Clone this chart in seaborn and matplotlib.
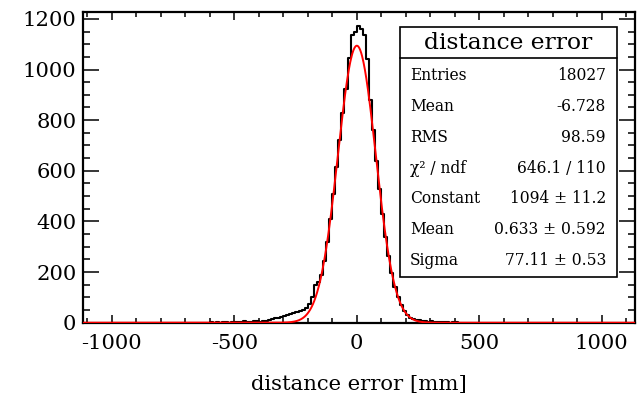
import numpy as np
import pandas as pd
import matplotlib
matplotlib.use("Agg")
import matplotlib.pyplot as plt
from matplotlib.patches import Rectangle
from matplotlib.lines import Line2D
from matplotlib.ticker import MultipleLocator
import seaborn as sns

# ---------------- data ----------------
hist_start = -600.0      # left edge of first filled bin [mm]
bin_width = 12.5         # bin width [mm]
counts = [
    2, 0, 3, 0, 2, 3, 0, 2, 3, 4, 2, 5, 4, 3, 5, 6, 4, 7, 8, 12,
    15, 18, 20, 22, 27, 30, 33, 38, 42, 48, 52, 60, 72, 100, 148, 160,
    190, 245, 320, 410, 510, 615, 720, 830, 925, 1045, 1138, 1150,
    1172, 1160, 1135, 1040, 880, 760, 640, 530, 430, 340, 262, 195,
    142, 100, 68, 46, 30, 20, 13, 10, 12, 8, 6, 4, 5, 3, 2, 3, 1, 2, 0, 2, 1,
]
fit_constant = 1094.0
fit_mean = 0.633
fit_sigma = 77.11

stats_title = "distance error"
stats_labels = ["Entries", "Mean", "RMS", "\u03c7\u00b2 / ndf", "Constant", "Mean", "Sigma"]
stats_values = ["18027", "-6.728", "98.59", "646.1 / 110",
                "1094 \u00b1 11.2", "0.633 \u00b1 0.592", "77.11 \u00b1 0.53"]
x_label = "distance error [mm]"

# ---------------- style ----------------
sns.set_theme(style="white")
plt.rcParams["font.family"] = ["DejaVu Serif"]
plt.rcParams["mathtext.fontset"] = "dejavuserif"
plt.rcParams["text.color"] = "black"
plt.rcParams["axes.labelcolor"] = "black"
plt.rcParams["xtick.color"] = "black"
plt.rcParams["ytick.color"] = "black"

W, H = 638, 394
fig = plt.figure(figsize=(W / 100, H / 100), dpi=100)
ax_l, ax_r, ax_t, ax_b = 83.3, 635.0, 12.3, 322.7
ax = fig.add_axes([ax_l / W, 1 - ax_b / H, (ax_r - ax_l) / W, (ax_b - ax_t) / H])

edges = [hist_start + bin_width * i for i in range(len(counts) + 1)]
centers = [0.5 * (edges[i] + edges[i + 1]) for i in range(len(counts))]
df = pd.DataFrame({"x": centers, "w": counts})

sns.histplot(data=df, x="x", weights="w", bins=edges, element="step", fill=False,
             color="black", linewidth=1.5, ax=ax)

xs = np.linspace(-1116, 1136, 1200)
ys = fit_constant * np.exp(-0.5 * ((xs - fit_mean) / fit_sigma) ** 2)
sns.lineplot(x=xs, y=ys, color="#ff0000", linewidth=1.4, ax=ax, zorder=4)

ax.set_xlim(-1116, 1136)
ax.set_ylim(0, 1226)
ax.set_ylabel("")
ax.set_xlabel(x_label, fontsize=15.2, va="top", color="black")
ax.xaxis.set_label_coords(0.5, -0.168)

ax.xaxis.set_major_locator(MultipleLocator(500))
ax.xaxis.set_minor_locator(MultipleLocator(100))
ax.yaxis.set_major_locator(MultipleLocator(200))
ax.yaxis.set_minor_locator(MultipleLocator(50))
ax.set_xticks([-1000, -500, 0, 500, 1000])
ax.set_xticklabels(["-1000", "-500", "0", "500", "1000"])

for s in ax.spines.values():
    s.set_linewidth(1.6)
    s.set_color("black")
    s.set_zorder(3)

ax.tick_params(axis="x", which="major", direction="in", length=6.0, width=1.1,
               top=True, bottom=True, labelsize=15.2, pad=8, colors="black")
ax.tick_params(axis="x", which="minor", direction="in", length=3.4, width=1.1,
               top=True, bottom=True, colors="black")
ax.tick_params(axis="y", which="major", direction="in", length=11.5, width=1.1,
               left=True, right=True, labelsize=15.2, pad=5, colors="black")
ax.tick_params(axis="y", which="minor", direction="in", length=5.0, width=1.1,
               left=True, right=True, colors="black")

# ---------------- stats box ----------------
def fx(px):
    return px / W

def fy(py):
    return 1 - py / H

bx0, bx1, by0, by1, sep = 400, 617, 27, 277, 58.3
fig.add_artist(Rectangle((fx(bx0), fy(by1)), fx(bx1) - fx(bx0), fy(by0) - fy(by1),
                         transform=fig.transFigure, facecolor="white",
                         edgecolor="black", linewidth=1.2, zorder=10))
fig.add_artist(Line2D([fx(bx0), fx(bx1)], [fy(sep), fy(sep)], transform=fig.transFigure,
                      color="black", linewidth=1.2, zorder=11))
fig.text(fx((bx0 + bx1) / 2), fy(43), stats_title, ha="center", va="center",
         fontsize=16.8, zorder=12, color="black")
row_y0, row_dy = 76, 30.7
for i, (lab, val) in enumerate(zip(stats_labels, stats_values)):
    yy = row_y0 + i * row_dy
    fig.text(fx(410), fy(yy), lab, ha="left", va="center", fontsize=11.2, zorder=12,
             color="black")
    fig.text(fx(606), fy(yy), val, ha="right", va="center", fontsize=11.2, zorder=12,
             color="black")

fig.savefig("out.png", dpi=100, facecolor="white")
